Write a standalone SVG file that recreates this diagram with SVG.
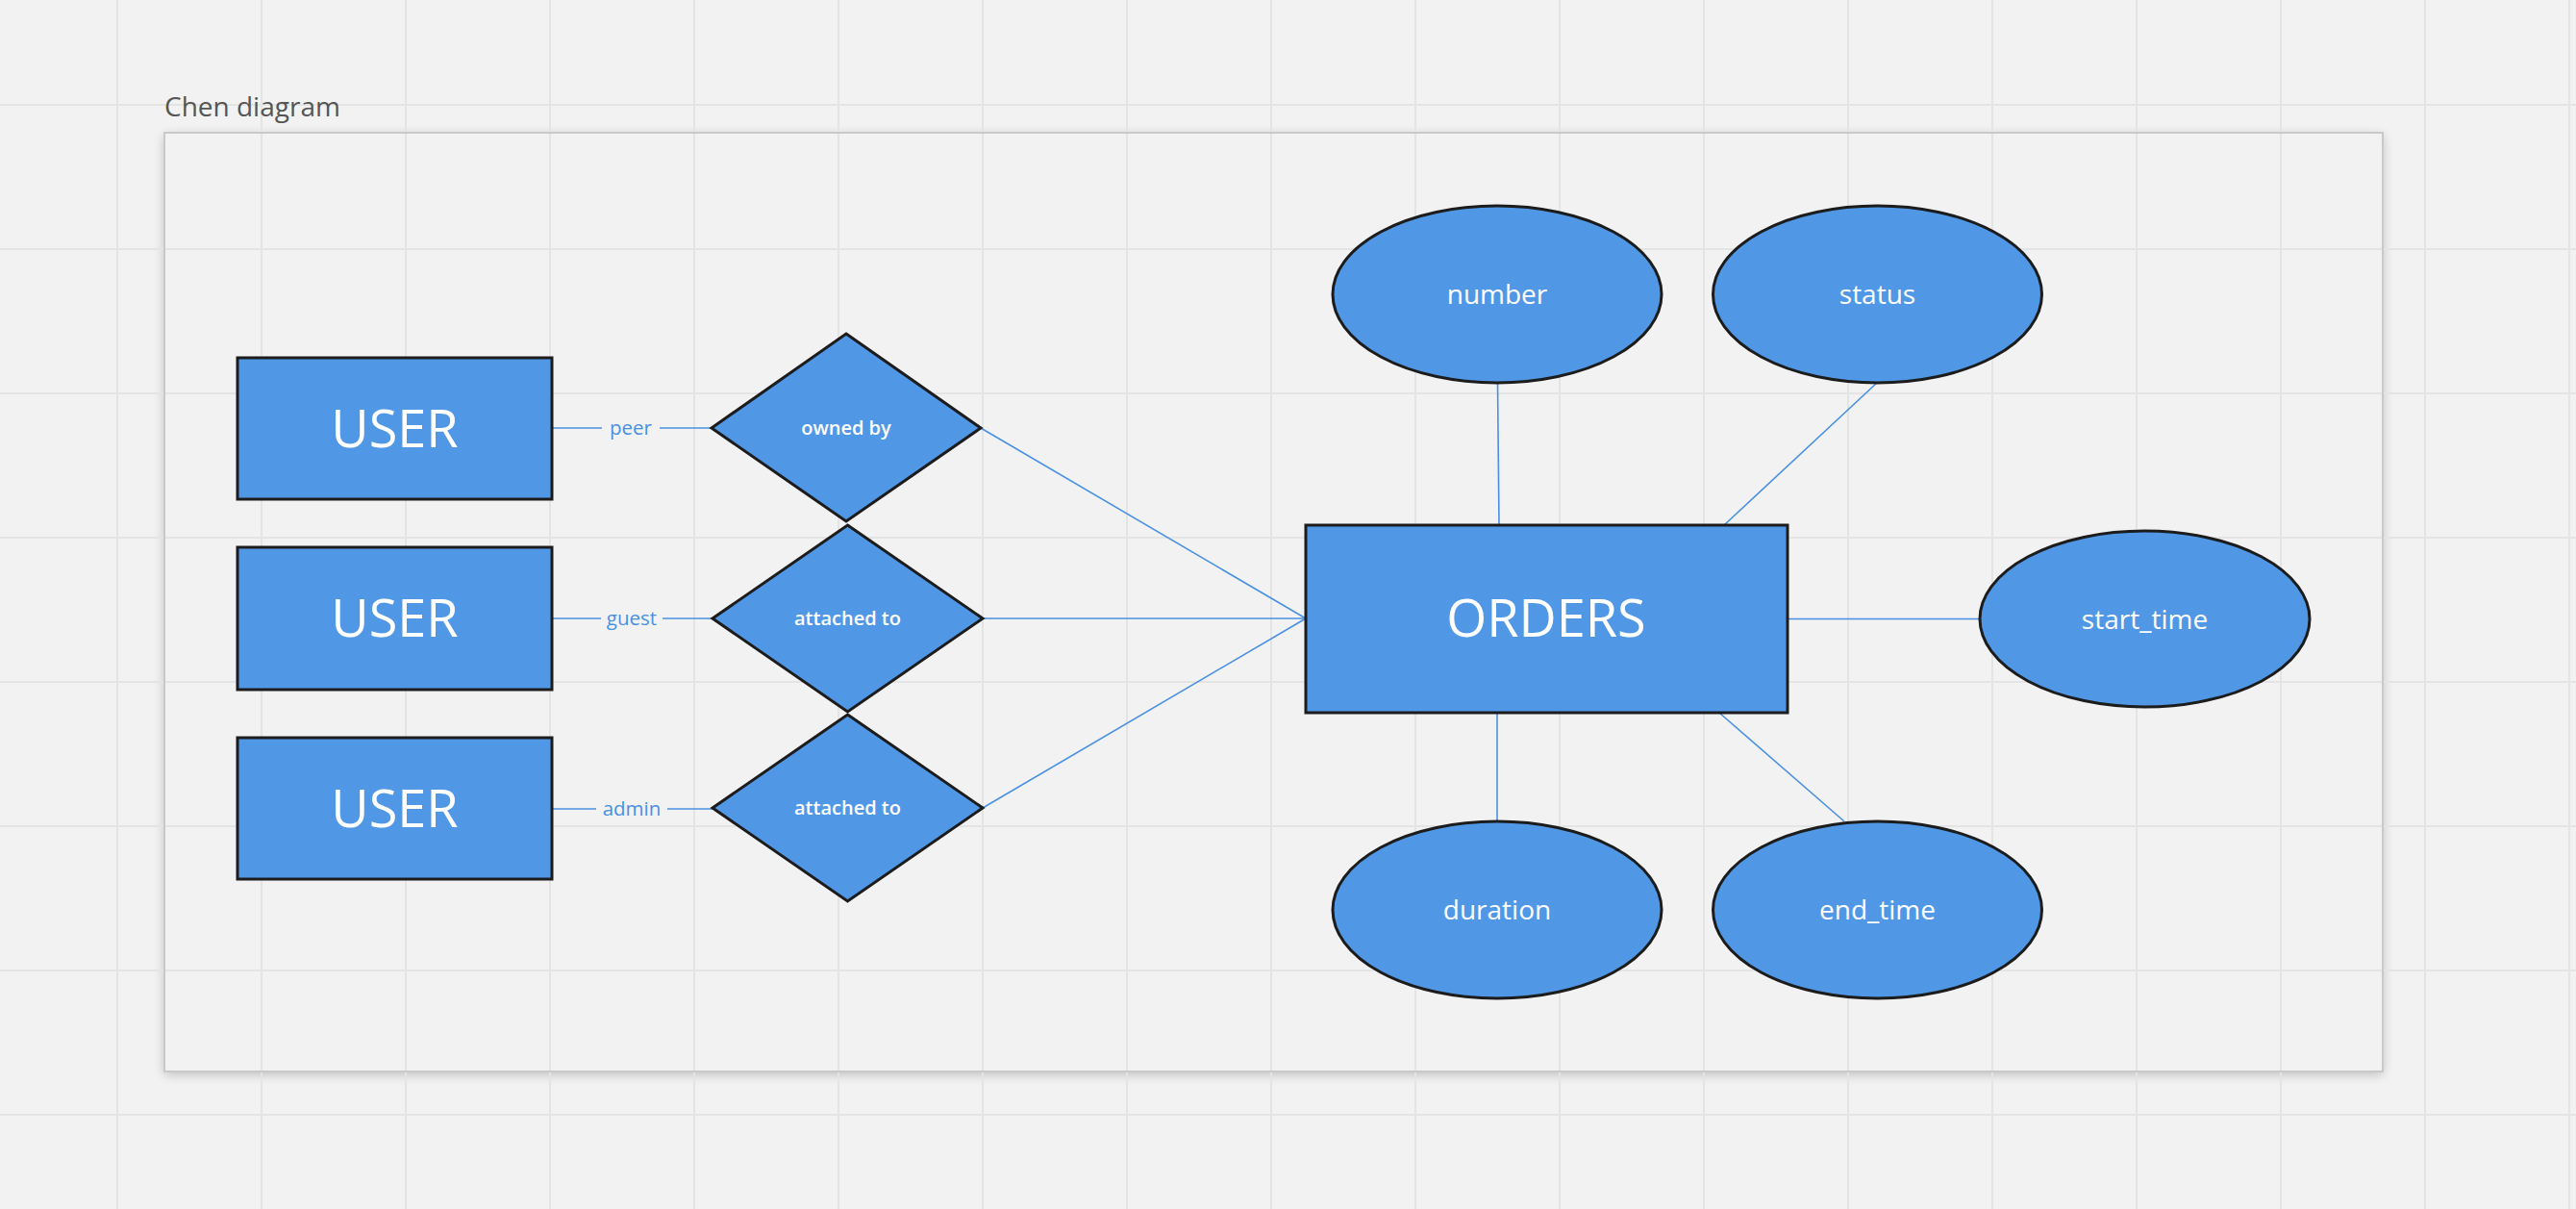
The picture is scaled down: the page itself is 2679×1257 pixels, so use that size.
<svg xmlns="http://www.w3.org/2000/svg" width="2679" height="1257" viewBox="0 0 2679 1257">
  <style>
    .grid { stroke: #e4e4e4; stroke-width: 2; }
    .ent { fill: #5098e6; stroke: #1c1c1c; stroke-width: 3; }
    .conn { stroke: #4a90e2; stroke-width: 1.6; fill: none; }
    .big { font-family: "Open Sans", "Liberation Sans", sans-serif; font-size: 54px; fill: #ffffff; text-anchor: middle; }
    .attr { font-family: "Open Sans", "Liberation Sans", sans-serif; font-size: 28px; fill: #ffffff; text-anchor: middle; }
    .rel { font-family: "Open Sans", "Liberation Sans", sans-serif; font-size: 20px; font-weight: 600; fill: #ffffff; text-anchor: middle; }
    .lbl { font-family: "Open Sans", "Liberation Sans", sans-serif; font-size: 20.5px; fill: #4a90e2; text-anchor: middle; }
  </style>
  <defs>
    <filter id="shadow" x="-5%" y="-5%" width="110%" height="110%">
      <feGaussianBlur stdDeviation="6"/>
    </filter>
  </defs>

  <rect x="0" y="0" width="2679" height="1257" fill="#f2f2f2"/>

  <!-- frame shadow and fill -->
  <rect x="171" y="141" width="2307" height="976" fill="#000" opacity="0.22" filter="url(#shadow)"/>
  <rect x="171" y="138" width="2307" height="976" fill="#f2f2f2"/>

  <g id="grid" class="grid">
    <line x1="122" y1="0" x2="122" y2="1257"/>
    <line x1="272" y1="0" x2="272" y2="1257"/>
    <line x1="422" y1="0" x2="422" y2="1257"/>
    <line x1="572" y1="0" x2="572" y2="1257"/>
    <line x1="722" y1="0" x2="722" y2="1257"/>
    <line x1="872" y1="0" x2="872" y2="1257"/>
    <line x1="1022" y1="0" x2="1022" y2="1257"/>
    <line x1="1172" y1="0" x2="1172" y2="1257"/>
    <line x1="1322" y1="0" x2="1322" y2="1257"/>
    <line x1="1472" y1="0" x2="1472" y2="1257"/>
    <line x1="1622" y1="0" x2="1622" y2="1257"/>
    <line x1="1772" y1="0" x2="1772" y2="1257"/>
    <line x1="1922" y1="0" x2="1922" y2="1257"/>
    <line x1="2072" y1="0" x2="2072" y2="1257"/>
    <line x1="2222" y1="0" x2="2222" y2="1257"/>
    <line x1="2372" y1="0" x2="2372" y2="1257"/>
    <line x1="2522" y1="0" x2="2522" y2="1257"/>
    <line x1="2672" y1="0" x2="2672" y2="1257"/>
    <line x1="0" y1="109" x2="2679" y2="109"/>
    <line x1="0" y1="259" x2="2679" y2="259"/>
    <line x1="0" y1="409" x2="2679" y2="409"/>
    <line x1="0" y1="559" x2="2679" y2="559"/>
    <line x1="0" y1="709" x2="2679" y2="709"/>
    <line x1="0" y1="859" x2="2679" y2="859"/>
    <line x1="0" y1="1009" x2="2679" y2="1009"/>
    <line x1="0" y1="1159" x2="2679" y2="1159"/>
  </g>

  <rect id="frame" x="171" y="138" width="2307" height="976" fill="none" stroke="#c9c9c9" stroke-width="2"/>
  <text id="title" x="171" y="121" font-family="'Open Sans', 'Liberation Sans', sans-serif" font-size="28" fill="#555555">Chen diagram</text>

  <g id="connectors">
    <line class="conn" x1="574" y1="445" x2="626" y2="445"/>
    <line class="conn" x1="686" y1="445" x2="740" y2="445"/>
    <line class="conn" x1="574" y1="643" x2="625" y2="643"/>
    <line class="conn" x1="689" y1="643" x2="741" y2="643"/>
    <line class="conn" x1="574" y1="841" x2="620" y2="841"/>
    <line class="conn" x1="694" y1="841" x2="741" y2="841"/>
    <line class="conn" x1="1020" y1="445" x2="1358" y2="643"/>
    <line class="conn" x1="1022" y1="643" x2="1358" y2="643"/>
    <line class="conn" x1="1022" y1="840" x2="1358" y2="643"/>
    <line class="conn" x1="1557.5" y1="398" x2="1559" y2="546"/>
    <line class="conn" x1="1952" y1="398" x2="1793" y2="546"/>
    <line class="conn" x1="1557" y1="741" x2="1557" y2="854"/>
    <line class="conn" x1="1788" y1="741" x2="1918" y2="854"/>
    <line class="conn" x1="1859" y1="643.5" x2="2059" y2="643.5"/>
    <text class="lbl" x="656" y="452">peer</text>
    <text class="lbl" x="657" y="650">guest</text>
    <text class="lbl" x="657" y="848">admin</text>
  </g>

  <g id="user1">
    <rect class="ent" x="247" y="372" width="327" height="147"/>
    <text class="big" x="410.5" y="465">USER</text>
  </g>
  <g id="user2">
    <rect class="ent" x="247" y="569" width="327" height="148"/>
    <text class="big" x="410.5" y="662">USER</text>
  </g>
  <g id="user3">
    <rect class="ent" x="247" y="767" width="327" height="147"/>
    <text class="big" x="410.5" y="860">USER</text>
  </g>

  <g id="rel-owned-by">
    <polygon class="ent" points="880,347 1020,445 880,542 740,445"/>
    <text class="rel" x="880" y="452">owned by</text>
  </g>
  <g id="rel-attached-1">
    <polygon class="ent" points="881.5,546 1022,643 881.5,740 741,643"/>
    <text class="rel" x="881.5" y="650">attached to</text>
  </g>
  <g id="rel-attached-2">
    <polygon class="ent" points="881.5,743 1022,840 881.5,937 741,840"/>
    <text class="rel" x="881.5" y="847">attached to</text>
  </g>

  <g id="orders">
    <rect class="ent" x="1358" y="546" width="501" height="195"/>
    <text class="big" x="1608" y="662">ORDERS</text>
  </g>

  <g id="attr-number">
    <ellipse class="ent" cx="1557" cy="306" rx="171" ry="92"/>
    <text class="attr" x="1557" y="316">number</text>
  </g>
  <g id="attr-status">
    <ellipse class="ent" cx="1952.5" cy="306" rx="171" ry="92"/>
    <text class="attr" x="1952.5" y="316">status</text>
  </g>
  <g id="attr-start-time">
    <ellipse class="ent" cx="2230.5" cy="643.5" rx="171.5" ry="91.5"/>
    <text class="attr" x="2230.5" y="654">start_time</text>
  </g>
  <g id="attr-duration">
    <ellipse class="ent" cx="1557" cy="946" rx="171" ry="92"/>
    <text class="attr" x="1557" y="956">duration</text>
  </g>
  <g id="attr-end-time">
    <ellipse class="ent" cx="1952.5" cy="946" rx="171" ry="92"/>
    <text class="attr" x="1952.5" y="956">end_time</text>
  </g>
</svg>
